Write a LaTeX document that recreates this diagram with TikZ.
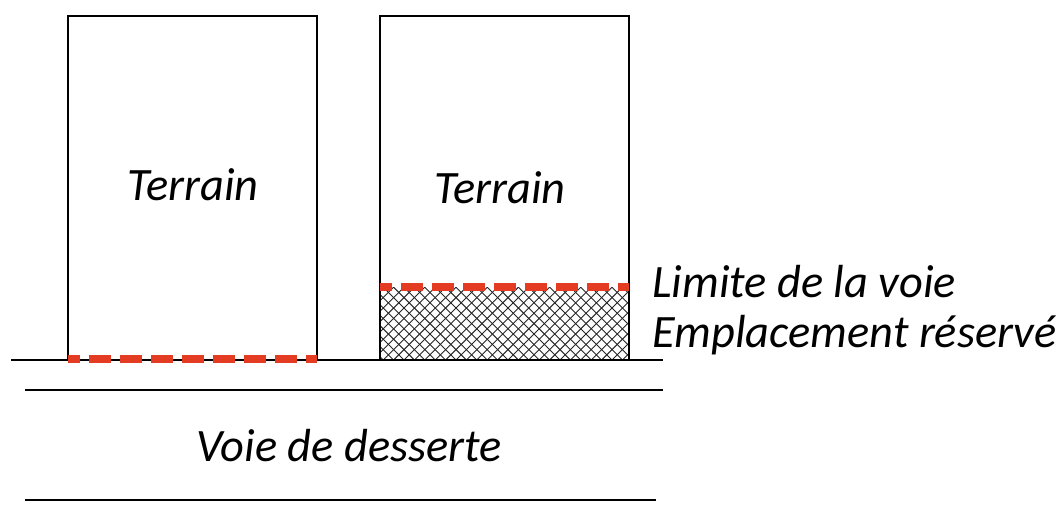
\documentclass[tikz,border=0pt]{standalone}
\usepackage{fontspec}
\setmainfont{Carlito}
\usetikzlibrary{calc}
\definecolor{limitered}{RGB}{227,60,34}

\tikzset{
	parcelle/.style={draw,line width=1.4pt},
	voie/.style={line width=1.8pt},
	limite/.style={draw=limitered,line width=0.22cm,dash pattern=on 0.55cm off 0.225cm,dash phase=0.25cm},
	hachure/.style={line width=0.65pt,black!85},
	texte/.style={font=\fontsize{33}{39}\selectfont\itshape,inner sep=0pt}
}

\begin{document}
\begin{tikzpicture}[x=0.025cm,y=-0.025cm]
\useasboundingbox (0,0) rectangle (1064,529);
% terrain de gauche
\coordinate (GA) at (68,16);
\coordinate (GB) at (317,360);
\draw[parcelle] (GA) rectangle (GB);
\node[texte,anchor=base] (TG) at (193,200) {Terrain};
% terrain de droite
\coordinate (DA) at (380,16);
\coordinate (DB) at (629,360);
\coordinate (DL) at (380,287);
\coordinate (DR) at (629,287);
\begin{scope}
	\clip (DL) rectangle (DB);
	\foreach \h in {300,310.4,...,720}
	{
		\draw[hachure] (\h,360) -- ++(-73,-73);
		\draw[hachure] (\h,360) -- ++(73,-73);
	}
\end{scope}
\draw[parcelle] (DA) rectangle (DB);
\node[texte,anchor=base] (TD) at (500,203) {Terrain};
% voie
\coordinate (S1) at (11,360);
\coordinate (S2) at (663,360);
\coordinate (V1) at (25,390);
\coordinate (V2) at (663,390);
\coordinate (W1) at (25,500);
\coordinate (W2) at (656,500);
\draw[voie] (S1) -- (S2);
\draw[voie] (V1) -- (V2);
\draw[voie] (W1) -- (W2);
\node[texte,anchor=base] (VD) at (349,461) {Voie de desserte};
% limites de la voie
\coordinate (LG1) at (68,359);
\coordinate (LG2) at (317,359);
\draw[limite] (LG1) -- (LG2);
\draw[limite] (DL) -- (DR);
%\draw (DR) -- ++(20,0);
\node[texte,anchor=base west] (LV) at (652,297) {Limite de la voie};
\node[texte,anchor=base west] (ER) at (652,347) {Emplacement réservé};
\end{tikzpicture}
\end{document}
